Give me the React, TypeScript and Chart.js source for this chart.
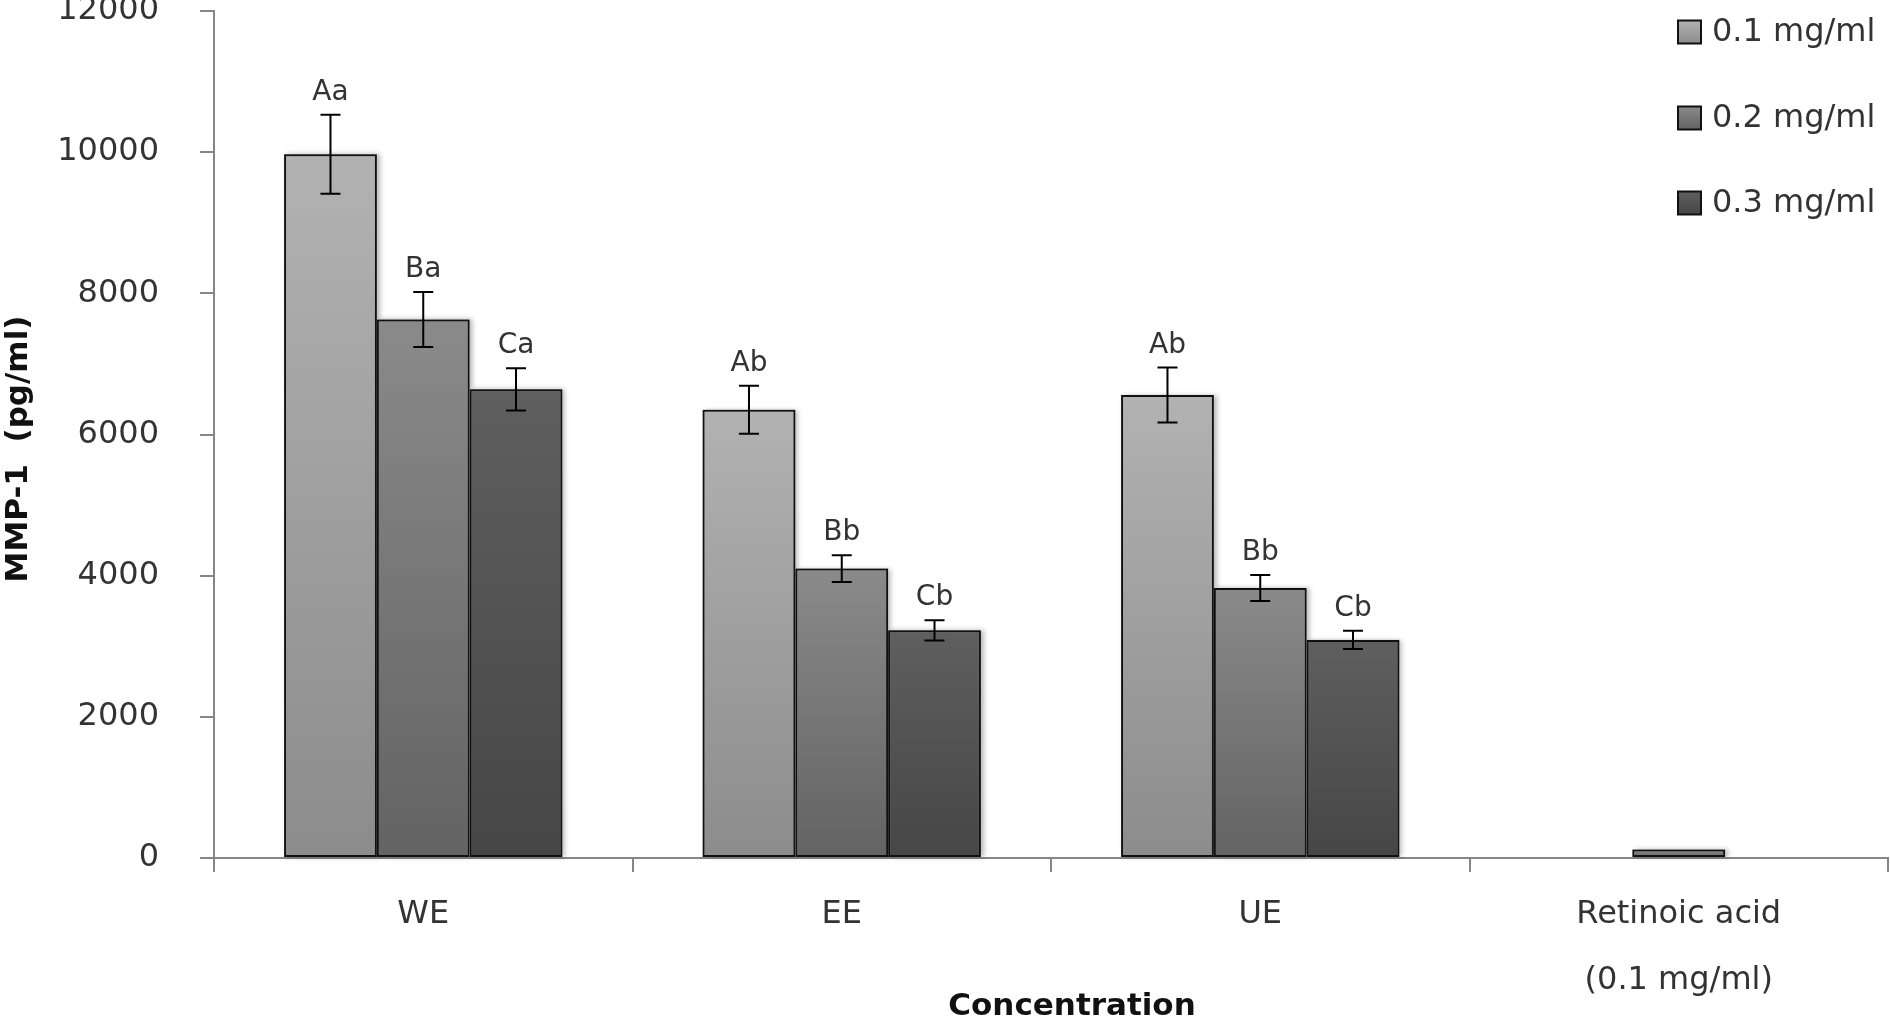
import React, { useEffect, useRef } from 'react';
import { Chart, registerables } from 'chart.js';

Chart.register(...registerables);

const FONT = '"DejaVu Sans", Verdana, sans-serif';

const categories: (string | string[])[] = ['WE', 'EE', 'UE', ['Retinoic acid', '(0.1 mg/ml)']];
const seriesNames = ['0.1 mg/ml', '0.2 mg/ml', '0.3 mg/ml'];

const values01 = [9970, 6350, 6560, null];
const values02 = [7630, 4100, 3825, 120];
const values03 = [6640, 3225, 3090, null];

const errors01 = [560, 340, 390, null];
const errors02 = [390, 190, 185, null];
const errors03 = [300, 145, 130, null];

const letters01 = ['Aa', 'Ab', 'Ab', ''];
const letters02 = ['Ba', 'Bb', 'Bb', ''];
const letters03 = ['Ca', 'Cb', 'Cb', ''];

const yMin = 0;
const yMax = 12000;
const yStep = 2000;

const xTitle = 'Concentration';
const yTitle = 'MMP-1  (pg/ml)';

// gradient colours (top, bottom) per series
const gradTop = ['#b2b2b2', '#8a8a8a', '#5f5f5f'];
const gradBottom = ['#8c8c8c', '#636363', '#464646'];

const allValues = [values01, values02, values03];
const allErrors = [errors01, errors02, errors03];
const allLetters = [letters01, letters02, letters03];

function makeBg(seriesIndex: number) {
  return (ctx: any) => {
    const chart = ctx.chart;
    const v = ctx.raw;
    if (!chart.chartArea || v == null || !chart.scales || !chart.scales.y) return gradTop[seriesIndex];
    const ys = chart.scales.y;
    const top = ys.getPixelForValue(v);
    const bottom = ys.getPixelForValue(0);
    if (!isFinite(top) || !isFinite(bottom) || bottom - top < 1) return gradBottom[seriesIndex];
    const g = chart.ctx.createLinearGradient(0, top, 0, bottom);
    g.addColorStop(0, gradTop[seriesIndex]);
    g.addColorStop(1, gradBottom[seriesIndex]);
    return g;
  };
}

const decorPlugin = {
  id: 'decor',
  beforeDatasetsDraw(chart: any) {
    const ctx = chart.ctx as CanvasRenderingContext2D;
    ctx.save();
    ctx.shadowColor = 'rgba(0,0,0,0.28)';
    ctx.shadowBlur = 5;
    ctx.shadowOffsetX = 3;
    ctx.shadowOffsetY = 0;
    ctx.fillStyle = '#888';
    chart.data.datasets.forEach((ds: any, di: number) => {
      const meta = chart.getDatasetMeta(di);
      meta.data.forEach((el: any, i: number) => {
        if (ds.data[i] == null) return;
        const left = el.x - el.width / 2;
        const top = Math.min(el.y, el.base);
        const h = Math.abs(el.base - el.y);
        ctx.fillRect(left, top, el.width, h);
      });
    });
    ctx.restore();
  },
  afterDatasetsDraw(chart: any) {
    const ctx = chart.ctx as CanvasRenderingContext2D;
    const ys = chart.scales.y;
    ctx.save();
    // error bars + letters
    chart.data.datasets.forEach((ds: any, di: number) => {
      const meta = chart.getDatasetMeta(di);
      const errs = allErrors[di];
      const lets = allLetters[di];
      meta.data.forEach((el: any, i: number) => {
        const v = ds.data[i];
        if (v == null) return;
        const e = errs[i];
        const x = el.x;
        let topY = ys.getPixelForValue(v);
        if (e != null) {
          const yHi = ys.getPixelForValue(v + e);
          const yLo = ys.getPixelForValue(v - e);
          ctx.strokeStyle = '#000';
          ctx.lineWidth = 2;
          ctx.beginPath();
          ctx.moveTo(x, yHi);
          ctx.lineTo(x, yLo);
          ctx.moveTo(x - 10, yHi);
          ctx.lineTo(x + 10, yHi);
          ctx.moveTo(x - 10, yLo);
          ctx.lineTo(x + 10, yLo);
          ctx.stroke();
          topY = yHi;
        }
        const t = lets[i];
        if (t) {
          ctx.fillStyle = '#333';
          ctx.font = `28px ${FONT}`;
          ctx.textAlign = 'center';
          ctx.textBaseline = 'middle';
          ctx.fillText(t, x, topY - 22);
        }
      });
    });
    ctx.restore();
  },
  afterDraw(chart: any) {
    const ctx = chart.ctx as CanvasRenderingContext2D;
    ctx.save();
    // legend
    const legendY = [32, 118, 203];
    seriesNames.forEach((name, i) => {
      const cy = legendY[i];
      const bx = 1678;
      const size = 23;
      const g = ctx.createLinearGradient(0, cy - size / 2, 0, cy + size / 2);
      g.addColorStop(0, gradTop[i]);
      g.addColorStop(1, gradBottom[i]);
      ctx.fillStyle = g;
      ctx.fillRect(bx, cy - size / 2, size, size);
      ctx.strokeStyle = '#111';
      ctx.lineWidth = 2;
      ctx.strokeRect(bx, cy - size / 2, size, size);
      ctx.fillStyle = '#333';
      ctx.font = `32px ${FONT}`;
      ctx.textAlign = 'left';
      ctx.textBaseline = 'middle';
      ctx.fillText(name, 1712, cy + 1);
    });
    // axis titles
    ctx.fillStyle = '#111';
    ctx.font = `bold 31px ${FONT}`;
    ctx.textAlign = 'center';
    ctx.textBaseline = 'middle';
    ctx.fillText(xTitle, 1072, 1007);
    ctx.translate(19, 449);
    ctx.rotate(-Math.PI / 2);
    ctx.font = `bold 31px ${FONT}`;
    ctx.fillText(yTitle, 0, 0);
    ctx.restore();
  },
};

export default function App() {
  const ref = useRef<HTMLCanvasElement | null>(null);
  useEffect(() => {
    document.body.style.margin = '0';
    const canvas = ref.current;
    if (!canvas) return;
    const chart = new Chart(canvas, {
      type: 'bar',
      data: {
        labels: categories as any,
        datasets: seriesNames.map((name, i) => ({
          label: name,
          data: allValues[i] as any,
          backgroundColor: makeBg(i) as any,
          borderColor: '#111',
          borderWidth: 2,
          borderSkipped: false,
          categoryPercentage: 0.665,
          barPercentage: 1,
        })),
      },
      options: {
        responsive: false,
        animation: false,
        devicePixelRatio: 1,
        layout: { padding: { top: 11, right: 2, left: 0, bottom: 0 } },
        plugins: { legend: { display: false }, tooltip: { enabled: false }, title: { display: false } },
        scales: {
          x: {
            grid: { display: true, drawOnChartArea: false, drawTicks: true, tickLength: 14, color: '#868686', lineWidth: 2, offset: true },
            border: { display: true, color: '#868686', width: 2 },
            ticks: { color: '#333', font: { family: FONT, size: 32, lineHeight: 2.06 }, padding: 10, maxRotation: 0, autoSkip: false },
            afterFit: (s: any) => { s.height = 164; s.paddingLeft = 0; s.paddingRight = 0; },
          },
          y: {
            min: yMin,
            max: yMax,
            grid: { drawOnChartArea: false, drawTicks: true, tickLength: 14, color: '#868686', lineWidth: 2 },
            border: { display: true, color: '#868686', width: 2 },
            ticks: { stepSize: yStep, color: '#333', font: { family: FONT, size: 32 }, padding: 41, callback: (v: any) => String(v) },
            afterFit: (s: any) => { s.width = 214; s.paddingTop = 0; s.paddingBottom = 0; },
          },
        },
      } as any,
      plugins: [decorPlugin],
    });
    return () => chart.destroy();
  }, []);
  return (
    <div style={{ width: 1890, height: 1022, background: '#fff' }}>
      <canvas ref={ref} width={1890} height={1022} style={{ display: 'block', width: 1890, height: 1022 }} />
    </div>
  );
}
